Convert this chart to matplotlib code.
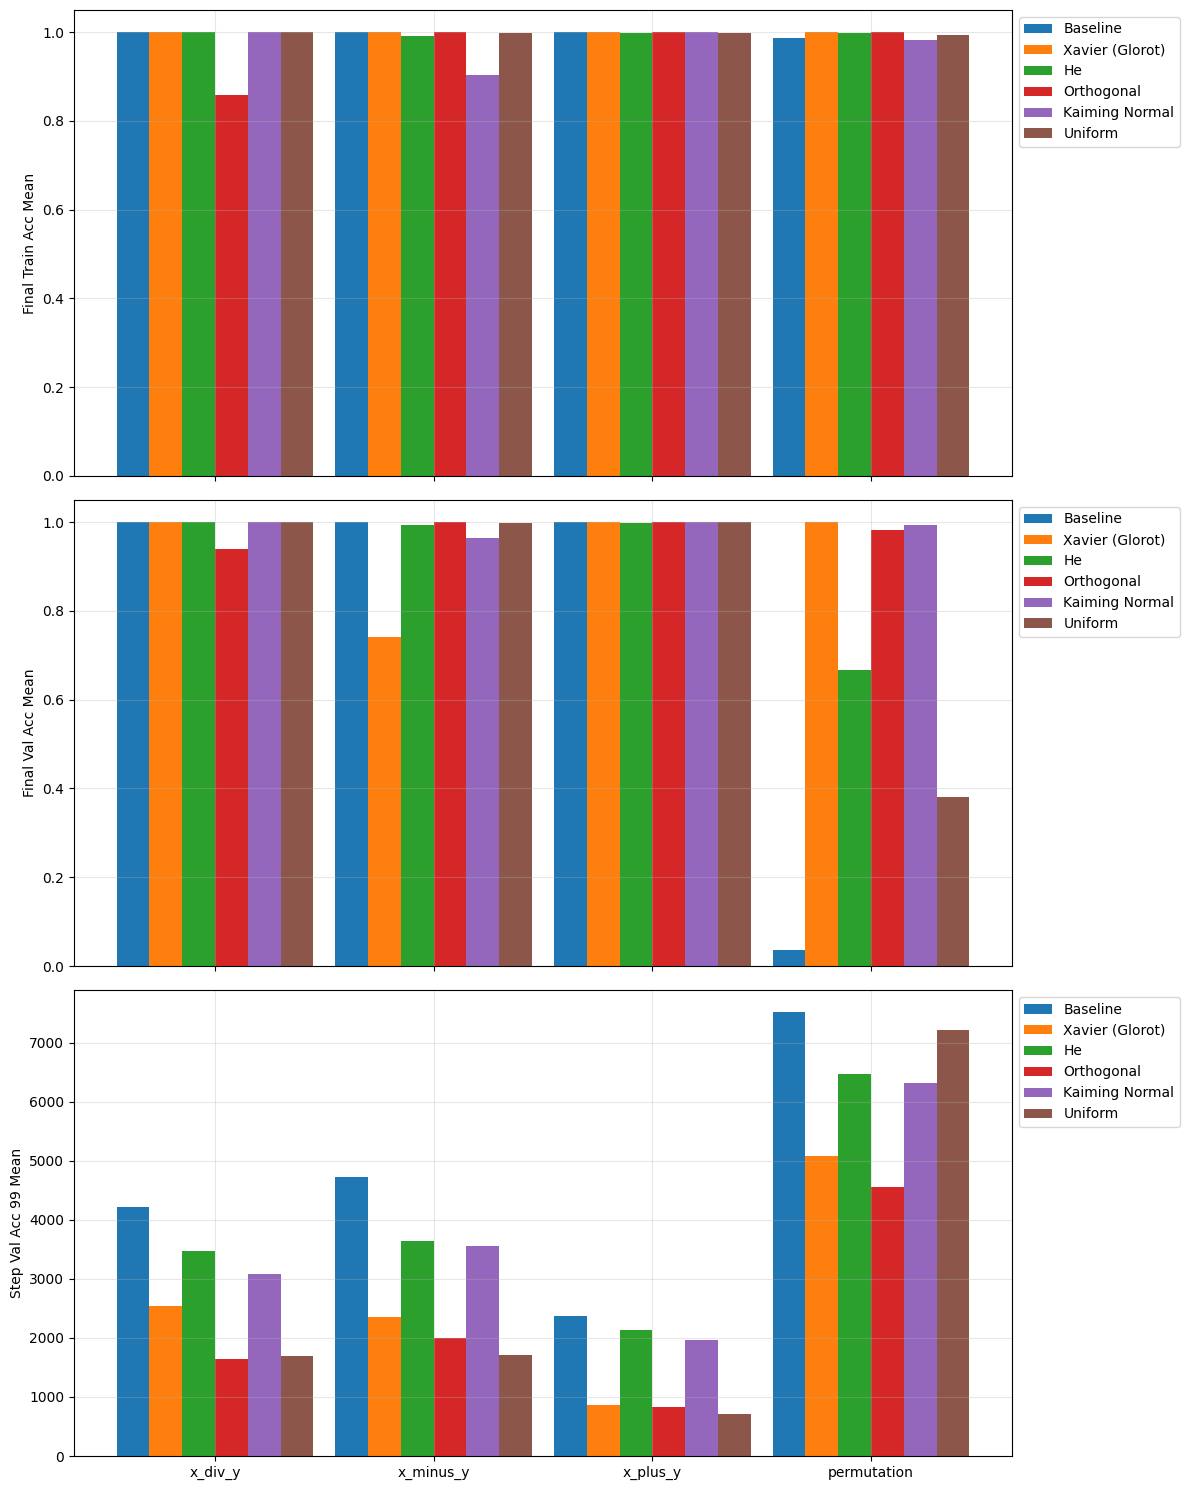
import numpy as np
import matplotlib
matplotlib.use("Agg")
import matplotlib.pyplot as plt

datasets = ["x_div_y", "x_minus_y", "x_plus_y", "permutation"]
methods = ["Baseline", "Xavier (Glorot)", "He", "Orthogonal", "Kaiming Normal", "Uniform"]

# rows = methods, columns = datasets
train_acc = [
    [1.0, 1.0, 1.0, 0.987],
    [1.0, 1.0, 1.0, 1.0],
    [1.0, 0.992, 0.998, 0.998],
    [0.858, 1.0, 1.0, 1.0],
    [1.0, 0.903, 1.0, 0.982],
    [1.0, 0.998, 0.998, 0.993],
]
val_acc = [
    [1.0, 1.0, 1.0, 0.036],
    [1.0, 0.742, 1.0, 1.0],
    [1.0, 0.993, 0.998, 0.667],
    [0.939, 1.0, 1.0, 0.982],
    [1.0, 0.964, 1.0, 0.993],
    [1.0, 0.998, 1.0, 0.381],
]
step_99 = [
    [4213, 4721, 2369, 7513],
    [2538, 2352, 863, 5076],
    [3469, 3638, 2132, 6464],
    [1641, 1997, 829, 4552],
    [3080, 3553, 1963, 6311],
    [1692, 1709, 711, 7208],
]

metrics = [
    ("Final Train Acc Mean", train_acc),
    ("Final Val Acc Mean", val_acc),
    ("Step Val Acc 99 Mean", step_99),
]

fig, axes = plt.subplots(3, 1, figsize=(11.9, 14.9), sharex=True)
x = np.arange(len(datasets))
width = 0.15

for ax, (label, vals) in zip(axes, metrics):
    for i, m in enumerate(methods):
        ax.bar(x + (i - 2.5) * width, vals[i], width, label=m)
    ax.set_ylabel(label)
    ax.grid(True, alpha=0.3)
    ax.legend(bbox_to_anchor=(1, 1), loc="upper left")

axes[-1].set_xticks(x)
axes[-1].set_xticklabels(datasets)

plt.subplots_adjust(left=0.0622, right=0.8504, top=0.9933, bottom=0.0228, hspace=0.0515)
plt.savefig("out.png", dpi=100)
